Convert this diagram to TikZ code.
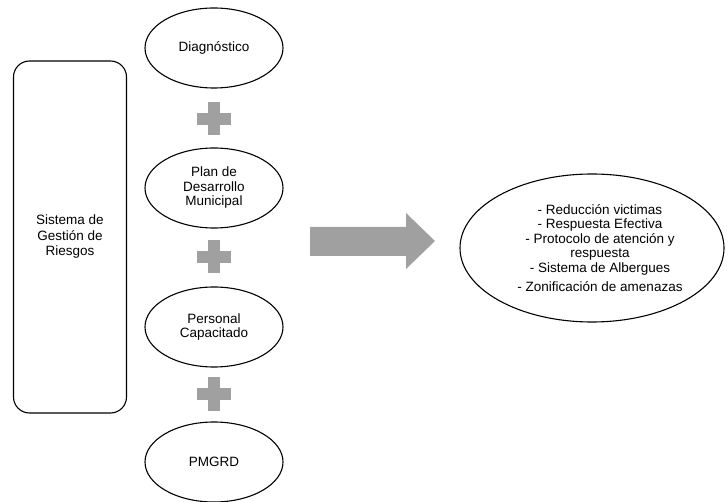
\documentclass[tikz,border=0pt]{standalone}
\usepackage{fontspec}
\setmainfont{Liberation Sans}
\usetikzlibrary{shapes.geometric}
\definecolor{plusgray}{RGB}{160,160,160}

\tikzset{
	etapa/.style={draw, ellipse, line width=1.1pt, minimum width=138pt, minimum height=80pt, inner sep=0pt, align=center, font=\fontsize{13.5}{14.5}\selectfont},
}

\begin{document}
\begin{tikzpicture}[x=1pt, y=-1pt]
	\useasboundingbox (0,0) rectangle (728,502);
	\node (sgr) [draw, rounded corners=16pt, line width=1.1pt, minimum width=113pt, minimum height=352pt, align=center, font=\fontsize{13.5}{15.5}\selectfont] at (70, 237) {Sistema de\\Gestión de\\Riesgos};
	\node (diag) [etapa] at (214, 48) {Diagnóstico};
	\node (plan) [etapa] at (214, 188) {Plan de\\Desarrollo\\Municipal};
	\node (pers) [etapa] at (214, 327) {Personal\\Capacitado};
	\node (pmgrd) [etapa] at (214, 462) {PMGRD};
	% signos mas
	\foreach \y in {119, 257, 394} {
		\fill[plusgray] (197, \y-6) rectangle (231, \y+6);
		\fill[plusgray] (208, \y-16.5) rectangle (220, \y+16.5);
	}
	% flecha
	\fill[plusgray] (310, 227) -- (406, 227) -- (406, 213) -- (435, 241) -- (406, 269) -- (406, 256) -- (310, 256) -- cycle;
	\node (result) [draw, ellipse, line width=1.1pt, minimum width=264pt, minimum height=148pt, inner sep=0pt, align=center, font=\fontsize{13.5}{14.5}\selectfont] at (592, 248) {\hspace*{16pt}- Reducción victimas\\\hspace*{16pt}- Respuesta Efectiva\\\hspace*{16pt}- Protocolo de atención y\\\hspace*{16pt}respuesta\\\hspace*{16pt}- Sistema de Albergues\\[5pt]\hspace*{16pt}- Zonificación de amenazas};
\end{tikzpicture}
\end{document}
